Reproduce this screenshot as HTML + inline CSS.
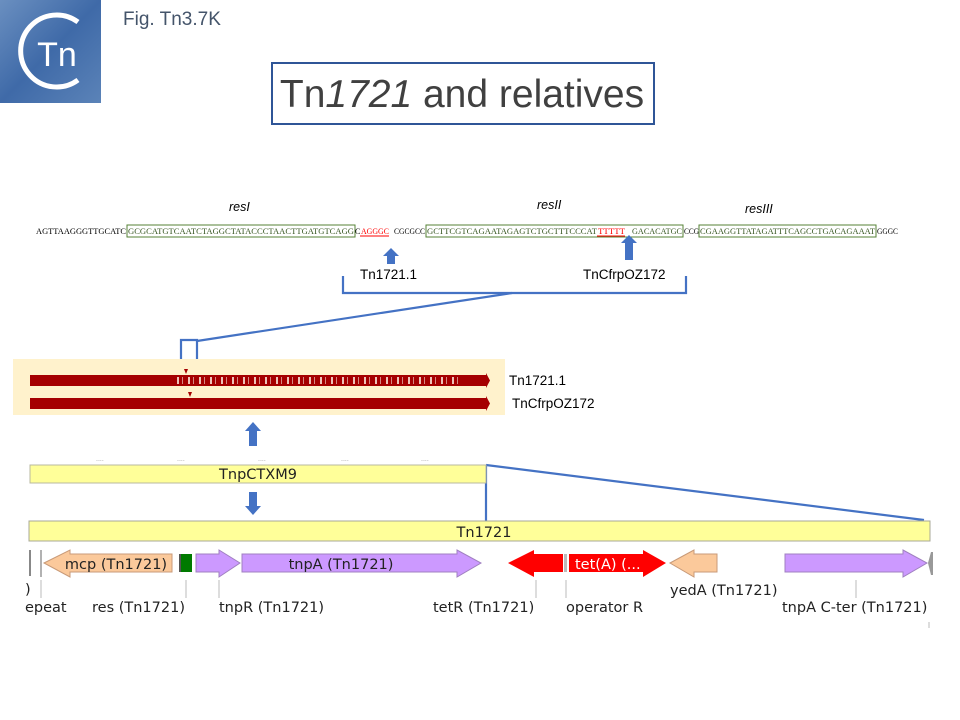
<!DOCTYPE html>
<html><head><meta charset="utf-8"><style>
html,body{margin:0;padding:0;background:#fff;width:960px;height:720px;overflow:hidden}
svg{display:block}
.m{font-family:"Liberation Serif","Liberation Mono",serif;font-size:8px}
.v{font-family:"DejaVu Sans","Liberation Sans",sans-serif;font-size:14.5px;fill:#222}
.s{font-family:"Liberation Sans",sans-serif;font-size:13.5px;fill:#000}
</style></head><body>
<svg width="960" height="720" viewBox="0 0 960 720" xmlns="http://www.w3.org/2000/svg">
<defs>
<linearGradient id="lg" x1="0" y1="0" x2="1" y2="1"><stop offset="0" stop-color="#6a8fc0"/><stop offset="0.5" stop-color="#3f6aa8"/><stop offset="1" stop-color="#5b83b8"/></linearGradient>
<pattern id="st" width="11" height="10" patternUnits="userSpaceOnUse"><rect x="1" y="0" width="2" height="10" fill="#f6d8cc" opacity="0.9"/><rect x="6" y="0" width="1" height="10" fill="#f8e4da" opacity="0.6"/></pattern>
</defs>
<rect x="0" y="0" width="101" height="103" fill="url(#lg)"/>
<path d="M78 22 A36 36 0 1 0 78 80" fill="none" stroke="#fff" stroke-width="5"/>
<text x="57" y="66" font-family="Liberation Sans,sans-serif" font-size="34" fill="#fff" text-anchor="middle">Tn</text>
<text x="123" y="25" font-family="Liberation Sans,sans-serif" font-size="19" fill="#44546a">Fig. Tn3.7K</text>
<rect x="272" y="63" width="382" height="61" fill="#fff" stroke="#2f5597" stroke-width="2"/>
<text x="462" y="107" font-family="Liberation Sans,sans-serif" font-size="39" fill="#404040" text-anchor="middle">Tn<tspan font-style="italic">1721</tspan> and relatives</text>
<g font-family="Liberation Sans,sans-serif" font-size="12.5" font-style="italic" fill="#000">
<text x="229" y="211">resI</text><text x="537" y="209">resII</text><text x="745" y="213">resIII</text></g>
<g class="m">
<text x="36" y="234" textLength="90" lengthAdjust="spacingAndGlyphs" fill="#000">AGTTAAGGGTTGCATC</text>
<rect x="127" y="225" width="228" height="12" fill="none" stroke="#548235" stroke-width="1"/>
<text x="128" y="234" textLength="226" lengthAdjust="spacingAndGlyphs" fill="#385723">GCGCATGTCAATCTAGGCTATACCCTAACTTGATGTCAGG</text>
<text x="355" y="234" fill="#000">C</text>
<text x="361" y="234" textLength="28" lengthAdjust="spacingAndGlyphs" fill="#ff0000">AGGGC</text>
<line x1="360" y1="236" x2="389" y2="236" stroke="#f00"/>
<text x="394" y="234" textLength="31" lengthAdjust="spacingAndGlyphs" fill="#000">CGCGCC</text>
<rect x="426" y="225" width="257" height="12" fill="none" stroke="#548235"/>
<text x="427" y="234" textLength="170" lengthAdjust="spacingAndGlyphs" fill="#385723">GCTTCGTCAGAATAGAGTCTGCTTTCCCAT</text>
<text x="598" y="234" textLength="27" lengthAdjust="spacingAndGlyphs" fill="#ff0000">TTTTT</text>
<line x1="597" y1="236" x2="625" y2="236" stroke="#f00"/>
<text x="632" y="234" textLength="50" lengthAdjust="spacingAndGlyphs" fill="#385723">GACACATGC</text>
<text x="684" y="234" textLength="15" lengthAdjust="spacingAndGlyphs" fill="#000">CCG</text>
<rect x="699" y="225" width="177" height="12" fill="none" stroke="#548235"/>
<text x="700" y="234" textLength="175" lengthAdjust="spacingAndGlyphs" fill="#385723">CGAAGGTTATAGATTTCAGCCTGACAGAAAT</text>
<text x="877" y="234" textLength="21" lengthAdjust="spacingAndGlyphs" fill="#000">GGGC</text>
</g>
<g fill="#4472c4">
<path d="M391 248 L399 256 L395 256 L395 264 L387 264 L387 256 L383 256Z"/>
<path d="M629 235 L637 243 L633 243 L633 260 L625 260 L625 243 L621 243Z"/>
<path d="M253 422 L261 431 L257 431 L257 446 L249 446 L249 431 L245 431Z"/>
<path d="M253 515 L261 506 L257 506 L257 492 L249 492 L249 506 L245 506Z"/>
</g>
<text class="s" x="360" y="279">Tn1721.1</text>
<text class="s" x="583" y="279">TnCfrpOZ172</text>
<g fill="none" stroke="#4472c4" stroke-width="2.2">
<path d="M343 276 V293 H686 V276"/>
<path d="M512 293 L197 341"/>
<path d="M181 362 V340 H197 V362"/>
<path d="M486 465 V521"/>
<path d="M486 465 L924 520"/>
</g>
<rect x="13" y="359" width="492" height="56" fill="#fff2cc"/>
<path d="M30 375 H486 V373 L490 380.5 L486 388 V386 H30Z" fill="#a50000"/>
<rect x="173" y="377" width="288" height="7" fill="url(#st)"/>
<path d="M30 398 H486 V396 L490 403.5 L486 411 V409 H30Z" fill="#a50000"/>
<path d="M184 369 L188 369 L186 374Z" fill="#a50000"/>
<path d="M188 392 L192 392 L190 397Z" fill="#a50000"/>
<text class="s" x="509" y="385">Tn1721.1</text>
<text class="s" x="512" y="408">TnCfrpOZ172</text>
<g fill="#999" font-size="7" font-family="Liberation Sans,sans-serif"><text x="96" y="461">....</text><text x="177" y="461">....</text><text x="258" y="461">....</text><text x="341" y="461">....</text><text x="421" y="461">....</text></g>
<rect x="30" y="465" width="456" height="18" fill="#ffff99" stroke="#b8b8a0"/>
<text class="v" x="258" y="479" text-anchor="middle" font-size="13.5">TnpCTXM9</text>
<rect x="29" y="521" width="901" height="20" fill="#ffff99" stroke="#a8a898"/>
<text class="v" x="484" y="537" text-anchor="middle">Tn1721</text>
<rect x="29" y="550" width="2" height="26" fill="#888"/>
<line x1="41" y1="550" x2="41" y2="577" stroke="#666"/>
<path d="M44 563 L70 550 V554 H172 V572 H70 V577Z" fill="#fbc99b" stroke="#c89a78"/>
<text class="v" x="116" y="569" text-anchor="middle">mcp (Tn1721)</text>
<rect x="179" y="554" width="2" height="18" fill="#555"/>
<rect x="181" y="554" width="11" height="18" fill="#007a00"/>
<path d="M196 554 H219 V550 L240 563 L219 577 V572 H196Z" fill="#cc99ff" stroke="#a080c0"/>
<path d="M242 554 H457 V550 L481 563 L457 577 V572 H242Z" fill="#cc99ff" stroke="#a080c0"/>
<text class="v" x="341" y="569" text-anchor="middle">tnpA (Tn1721)</text>
<path d="M508 563 L534 550 V554 H563 V572 H534 V577Z" fill="#f00"/>
<rect x="564" y="554" width="3" height="18" fill="#bbb"/>
<path d="M569 554 H643 V550 L666 563 L643 577 V572 H569Z" fill="#f00"/>
<text x="575" y="569" font-family="DejaVu Sans,sans-serif" font-size="14.5" fill="#fff">tet(A) (...</text>
<path d="M670 563 L694 550 V554 H717 V572 H694 V577Z" fill="#fbc99b" stroke="#c89a78"/>
<path d="M785 554 H903 V550 L927 563 L903 577 V572 H785Z" fill="#cc99ff" stroke="#a080c0"/>
<path d="M928 563 L931 552 L933 552 V575 L931 575Z" fill="#999"/>
<g stroke="#bbb" stroke-width="1">
<line x1="41" y1="580" x2="41" y2="598"/><line x1="186" y1="580" x2="186" y2="598"/>
<line x1="219" y1="580" x2="219" y2="598"/><line x1="536" y1="580" x2="536" y2="598"/>
<line x1="566" y1="580" x2="566" y2="598"/><line x1="856" y1="580" x2="856" y2="598"/>
<line x1="929" y1="622" x2="929" y2="628"/>
</g>
<text class="v" x="25" y="594">)</text>
<text class="v" x="25" y="612">epeat</text>
<text class="v" x="92" y="612">res (Tn1721)</text>
<text class="v" x="219" y="612">tnpR (Tn1721)</text>
<text class="v" x="433" y="612">tetR (Tn1721)</text>
<text class="v" x="566" y="612">operator R</text>
<text class="v" x="670" y="595">yedA (Tn1721)</text>
<text class="v" x="782" y="612">tnpA C-ter (Tn1721)</text>
</svg>
</body></html>
